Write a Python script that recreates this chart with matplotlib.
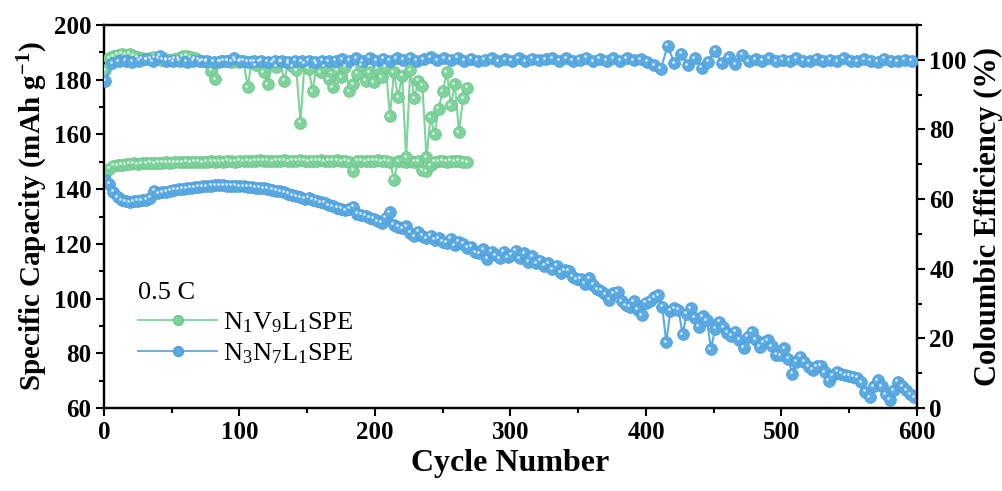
import numpy as np
import matplotlib
matplotlib.use("Agg")
import matplotlib.pyplot as plt
from matplotlib.lines import Line2D
from matplotlib.ticker import MultipleLocator
from matplotlib.transforms import offset_copy

plt.rcParams['font.family'] = ['Liberation Serif', 'DejaVu Serif']
plt.rcParams['mathtext.fontset'] = 'custom'
plt.rcParams['mathtext.rm'] = 'Liberation Serif'
plt.rcParams['mathtext.it'] = 'Liberation Serif:italic'
plt.rcParams['mathtext.bf'] = 'Liberation Serif:bold'

GREEN = '#7dd39b'
BLUE = '#5aaae4'

# N3N7L1SPE capacity, every 3rd cycle starting at 1
blue_cap = [
    143.5, 142.0, 139.0, 137.0, 136.0, 135.5, 135.3, 135.5, 135.8, 136.0,
    136.2, 136.8, 139.5, 138.5, 138.8, 139.0, 139.5, 139.8, 140.0, 140.2,
    140.4, 140.6, 140.7, 140.8, 141.0, 141.1, 141.3, 141.4, 141.5, 141.4,
    141.3, 141.2, 141.2, 141.1, 141.0, 140.9, 140.8, 140.6, 140.5, 140.3,
    140.1, 139.8, 139.5, 139.2, 138.9, 138.3, 137.8, 137.5, 137.1, 136.5,
    136.9, 136.2, 135.8, 135.3, 135.0, 134.2, 133.8, 133.2, 132.8, 132.3,
    132.8, 133.5, 131.0, 130.6, 130.2, 129.6, 129.2, 128.2, 127.8, 129.5,
    131.5, 127.0, 126.2, 125.8, 126.5, 124.0, 122.8, 124.5, 123.0, 122.0,
    123.0, 121.5, 122.0, 120.8, 120.5, 121.8, 119.5, 120.8, 120.0, 118.5,
    119.0, 117.0, 116.5, 118.0, 114.5, 117.2, 115.8, 114.8, 117.2, 115.2,
    116.0, 117.5, 114.8, 116.6, 113.5, 115.5, 113.0, 113.8, 112.0, 113.0,
    110.8, 112.0, 109.5, 110.4, 110.2, 108.0, 107.0, 107.2, 105.5, 107.4,
    105.0, 103.5, 102.8, 101.5, 99.5, 102.0, 102.5, 99.0, 97.5, 97.0,
    99.0, 96.0, 94.0, 98.5, 99.2, 100.5, 101.2, 97.0, 84.0, 95.5,
    96.5, 96.0, 87.0, 94.5, 96.5, 93.0, 89.7, 93.5, 92.0, 81.5,
    89.0, 91.5, 89.5, 87.5, 86.5, 87.8, 85.0, 82.0, 86.0, 87.8,
    85.0, 82.4, 84.0, 84.8, 82.5, 79.5, 79.3, 81.8, 78.0, 72.5,
    77.0, 78.7, 77.0, 75.0, 73.9, 75.2, 75.5, 73.0, 70.0, 72.0,
    73.2, 72.5, 72.0, 71.8, 71.5, 71.0, 69.5, 66.0, 64.0, 68.0,
    70.2, 68.0, 65.0, 63.0, 66.5, 69.6, 68.0, 66.5, 65.0, 64.0,
]

# N1V9L1SPE capacity, every 3rd cycle starting at 1
green_cap = [
    145.5, 147.5, 148.5, 148.8, 149.0, 149.2, 149.3, 149.4, 149.2, 149.5,
    149.4, 149.6, 149.5, 149.7, 149.6, 149.8, 149.7, 149.9, 149.8, 149.9,
    150.0, 149.8, 150.0, 150.1, 149.9, 150.0, 150.2, 150.1, 150.2, 150.0,
    150.3, 150.2, 150.1, 150.3, 150.2, 150.4, 150.2, 150.3, 150.5, 150.3,
    150.4, 150.2, 150.4, 150.3, 150.5, 150.2, 150.4, 150.3, 150.5, 150.3,
    150.2, 150.4, 150.3, 150.5, 150.2, 150.3, 150.4, 150.5, 150.2, 150.4,
    150.1, 146.8, 150.3, 150.4, 150.2, 150.4, 150.3, 150.5, 150.2, 150.4,
    150.1, 143.5, 150.2, 150.4, 150.0, 150.3, 150.1, 150.2, 147.0, 146.6,
    148.8, 150.0, 150.2, 150.4, 150.1, 150.3, 150.2, 150.4, 150.0, 149.8,
]

# N1V9L1SPE coulombic efficiency, every 3rd cycle starting at 1
green_ce = [
    97.0, 100.5, 101.0, 101.5, 101.8, 101.5, 101.8, 101.2, 100.8, 100.5,
    100.2, 100.5, 100.8, 100.3, 100.0, 100.2, 100.0, 100.3, 100.5, 101.0,
    101.2, 100.8, 100.5, 100.0, 99.8, 99.5, 96.8, 94.5, 99.5, 99.8,
    99.8, 99.5, 99.8, 99.5, 99.8, 92.1, 99.5, 98.5, 99.5, 96.4,
    93.0, 99.2, 98.0, 99.5, 94.0, 99.0, 98.2, 97.0, 82.0, 99.0,
    97.5, 91.0, 99.0, 96.5, 98.0, 94.5, 92.1, 97.0, 95.0, 98.0,
    91.0, 93.0, 96.0, 98.5, 94.0, 96.5, 93.5, 97.5, 95.0, 98.0,
    83.8, 96.5, 89.2, 95.5, 72.0, 97.0, 89.0, 94.0, 92.5, 72.0,
    83.5, 78.7, 86.0, 91.0, 96.5, 87.0, 93.0, 79.2, 89.0, 92.0,
]

# N3N7L1SPE coulombic efficiency, every 5th cycle starting at 1
blue_ce = [
    94.0, 99.0, 99.6, 99.8, 99.5, 99.7, 100.2, 99.6, 101.2, 99.8,
    99.6, 99.7, 99.5, 99.8, 99.6, 99.7, 99.5, 99.6, 99.8, 100.4,
    99.7, 99.5, 99.6, 99.8, 99.5, 99.7, 99.6, 99.5, 99.7, 99.6,
    99.8, 99.5, 99.7, 99.6, 99.8, 100.2, 99.7, 100.4, 99.6, 100.6,
    99.8, 100.3, 99.7, 100.5, 100.0, 100.6, 99.8, 100.2, 100.7, 99.9,
    100.4, 100.0, 100.6, 99.7, 100.3, 99.8, 100.0, 100.5, 99.6, 100.2,
    99.8, 100.4, 99.6, 100.3, 99.9, 100.2, 100.5, 99.7, 100.4, 99.8,
    100.0, 100.6, 99.6, 100.3, 99.8, 100.5, 99.7, 100.4, 99.9, 100.2,
    99.5, 98.5, 97.5, 104.0, 99.0, 101.8, 98.5, 100.5, 97.8, 99.5,
    102.6, 99.0, 100.8, 98.8, 101.5, 99.6, 100.2, 99.8, 100.4, 99.6,
    100.0, 99.7, 100.5, 99.8, 99.6, 100.3, 99.7, 100.0, 99.6, 100.4,
    99.8, 99.6, 100.2, 99.7, 99.5, 100.3, 99.8, 99.6, 100.0, 99.7,
]

blue_cap_cyc = np.arange(len(blue_cap)) * 3 + 1
green_cap_cyc = np.arange(len(green_cap)) * 3 + 1
green_ce_cyc = np.arange(len(green_ce)) * 3 + 1
blue_ce_cyc = np.arange(len(blue_ce)) * 5 + 1

fig = plt.figure(figsize=(10.03, 4.91), dpi=100)
ax = fig.add_axes([0.1037, 0.169, 0.8105, 0.780])
ax2 = ax.twinx()


def balls(axis, x, y, color, edge):
    axis.plot(x, y, '-', color=color, lw=1.5, marker='o', ms=8.5,
              mfc=color, mec=edge, mew=0.5, zorder=3)
    hl = offset_copy(axis.transData, fig=fig, x=-1.5, y=1.5, units='dots')
    axis.scatter(x, y, s=4, color='white', alpha=0.75, lw=0,
                 transform=hl, zorder=4)


balls(ax, green_cap_cyc, green_cap, GREEN, '#69c487')
balls(ax, blue_cap_cyc, blue_cap, BLUE, '#4a9bd6')
balls(ax2, green_ce_cyc, green_ce, GREEN, '#69c487')
balls(ax2, blue_ce_cyc, blue_ce, BLUE, '#4a9bd6')

ax.set_xlim(0, 600)
ax.set_ylim(60, 200)
ax2.set_ylim(0, 110)

ax.xaxis.set_major_locator(MultipleLocator(100))
ax.xaxis.set_minor_locator(MultipleLocator(50))
ax.yaxis.set_major_locator(MultipleLocator(20))
ax.yaxis.set_minor_locator(MultipleLocator(10))
ax2.yaxis.set_minor_locator(MultipleLocator(10))
ax2.set_yticks([0, 20, 40, 60, 80, 100])

for a in (ax, ax2):
    for s in a.spines.values():
        s.set_linewidth(1.6)
    a.tick_params(which='major', length=6, width=1.5, direction='out',
                  labelsize=18, pad=3)
    a.tick_params(which='minor', length=3.5, width=1.5, direction='out')
    for lab in a.get_xticklabels() + a.get_yticklabels():
        lab.set_fontweight('bold')

ax.set_xlabel('Cycle Number', fontsize=23, fontweight='bold', labelpad=4)
ax.set_ylabel(r'Specific Capacity (mAh g$\mathbf{^{-1}}$)', fontsize=21,
              fontweight='bold', labelpad=3)
ax2.set_ylabel('Coloumbic Efficiency (%)', fontsize=22, fontweight='bold',
               labelpad=5)

handles = [
    Line2D([], [], color=GREEN, lw=1.3, marker='o', ms=7, mec='#69c487'),
    Line2D([], [], color=BLUE, lw=1.3, marker='o', ms=7, mec='#4a9bd6'),
]
labels = [r'N$_1$V$_9$L$_1$SPE', r'N$_3$N$_7$L$_1$SPE']
leg = ax2.legend(handles, labels, loc='upper left',
                 bbox_to_anchor=(0.042, 0.33), borderaxespad=0, borderpad=0,
                 frameon=False, fontsize=19, handlelength=3.0,
                 handletextpad=0.2, labelspacing=0.25, title='0.5 C',
                 title_fontsize=19)
leg._legend_box.align = 'left'

fig.savefig('out.png', dpi=100)
